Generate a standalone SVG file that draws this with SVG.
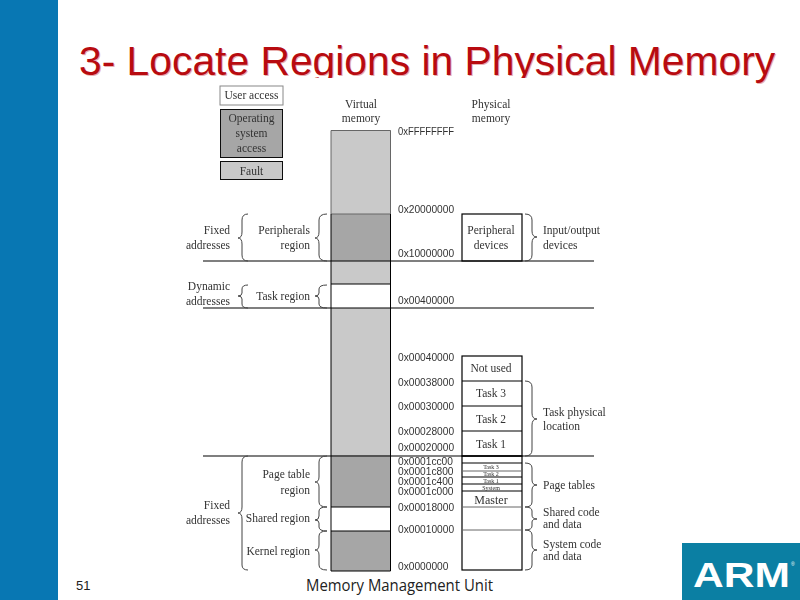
<svg xmlns="http://www.w3.org/2000/svg" width="800" height="600" viewBox="0 0 800 600">
<style>
.s{font-family:"Liberation Serif",serif;font-size:11.5px;fill:#333}
.m{text-anchor:middle}.e{text-anchor:end}
.a{font-family:"Liberation Sans",sans-serif;font-size:10.2px;fill:#333}
.b{fill:none;stroke:#444;stroke-width:1}
.k{fill:none;stroke:#000;stroke-width:1.2}
.l{fill:#c9c9c9}.d{fill:#a6a6a6}.w{fill:#fff}
.t{font-family:"Liberation Sans",sans-serif;font-size:40.800px}
</style>
<defs><filter id="soft" x="-5%" y="-5%" width="110%" height="110%"><feGaussianBlur stdDeviation="0.4"/></filter></defs>
<rect width="800" height="600" fill="#fff"/>
<rect id="sidebar" width="58" height="600" fill="#0877b3"/>
<g id="title">
<text class="t" x="80" y="76" fill="#e8b0b0">3- Locate Regions in Physical Memory</text>
<text class="t" x="79" y="75" fill="#b80b10">3- Locate Regions in Physical Memory</text>
</g>
<rect x="170" y="78" width="440" height="10" fill="#fff"/>
<g filter="url(#soft)">
<g id="legend">
<g id="legend-user"><rect x="220" y="86" width="63" height="19" fill="#fff" stroke="#888"/><text class="s m" x="251.500" y="99">User access</text></g>
<g id="legend-os"><rect class="d" x="220.500" y="109.500" width="62" height="48" stroke="#111"/><text class="s m" x="251.500" y="122">Operating</text><text class="s m" x="251.500" y="137">system</text><text class="s m" x="251.500" y="152">access</text></g>
<g id="legend-fault"><rect class="l" x="220.500" y="161.500" width="62" height="18" stroke="#111"/><text class="s m" x="251.500" y="175">Fault</text></g>
</g>
<g id="virtual-memory">
<text class="s m" x="361" y="108">Virtual</text><text class="s m" x="361" y="122">memory</text>
<rect class="l" x="331" y="130" width="60" height="84"/>
<rect class="d" x="331" y="214" width="60" height="47"/>
<rect class="l" x="331" y="261" width="60" height="23"/>
<rect class="w" x="331" y="284" width="60" height="24"/>
<rect class="l" x="331" y="308" width="60" height="147"/>
<rect class="d" x="331" y="455" width="60" height="52"/>
<rect class="w" x="331" y="507" width="60" height="24"/>
<rect class="d" x="331" y="531" width="60" height="40"/>
<path d="M331 284H391M331 507H391M331 531H391" stroke="#000" fill="none"/>
<path d="M331 214V130.500H390.500V214" stroke="#666" fill="none"/>
<path d="M331 214H391" stroke="#666" fill="none"/>
<path d="M331 214V571H390.500V214" stroke="#000" fill="none"/>
</g>
<g id="connectors">
<path d="M203 261H594M203 308H594M203 456H594" stroke="#000" stroke-width="1.200" fill="none"/>
<path class="b" d="M248 214Q242 214 242 220V232Q242 238 238 238Q242 238 242 244V255Q242 261 248 261"/>
<path class="b" d="M248 285Q242 285 242 289V293Q242 296 238 296Q242 296 242 299V304Q242 308 248 308"/>
<path class="b" d="M248 456Q242 456 242 462V507Q242 513 238 513Q242 513 242 519V565Q242 570 248 570"/>
<path class="b" d="M327 214Q319 214 319 220V232Q319 238 315 238Q319 238 319 244V255Q319 261 327 261"/>
<path class="b" d="M327 285Q319 285 319 289V293Q319 296 315 296Q319 296 319 299V304Q319 308 327 308"/>
<path class="b" d="M327 456Q319 456 319 462V477Q319 482 315 482Q319 482 319 487V502Q319 507 327 507"/>
<path class="b" d="M327 507Q319 507 319 511V516Q319 520 315 520Q319 520 319 523V527Q319 531 327 531"/>
<path class="b" d="M327 531Q319 531 319 536V545Q319 550 315 550Q319 550 319 555V565Q319 570 327 570"/>
<path class="b" d="M525 214Q532 214 532 220V231Q532 237 537 237Q532 237 532 243V255Q532 261 525 261"/>
<path class="b" d="M525 381Q532 381 532 387V413Q532 419 537 419Q532 419 532 425V450Q532 456 525 456"/>
<path class="b" d="M525 463Q532 463 532 468V480Q532 485 537 485Q532 485 532 490V502Q532 507 525 507"/>
<path class="b" d="M525 507Q532 507 532 511V515Q532 519 537 519Q532 519 532 522V526Q532 530 525 530"/>
<path class="b" d="M525 530Q532 530 532 535V545Q532 550 537 550Q532 550 532 555V565Q532 570 525 570"/>
</g>
<g id="left-labels">
<text class="s e" x="230" y="234">Fixed</text><text class="s e" x="230" y="249">addresses</text>
<text class="s e" x="230" y="290">Dynamic</text><text class="s e" x="230" y="305">addresses</text>
<text class="s e" x="230" y="509">Fixed</text><text class="s e" x="230" y="524">addresses</text>
<text class="s e" x="310" y="234">Peripherals</text><text class="s e" x="310" y="249">region</text>
<text class="s e" x="310" y="300">Task region</text>
<text class="s e" x="310" y="478">Page table</text><text class="s e" x="310" y="494">region</text>
<text class="s e" x="310" y="522">Shared region</text>
<text class="s e" x="310" y="555">Kernel region</text>
</g>
<g id="addresses">
<text class="a" x="398" y="135" textLength="56" lengthAdjust="spacingAndGlyphs">0xFFFFFFFF</text>
<text class="a" x="398" y="213">0x20000000</text>
<text class="a" x="398" y="257">0x10000000</text>
<text class="a" x="398" y="304">0x00400000</text>
<text class="a" x="398" y="361">0x00040000</text>
<text class="a" x="398" y="386">0x00038000</text>
<text class="a" x="398" y="410">0x00030000</text>
<text class="a" x="398" y="435">0x00028000</text>
<text class="a" x="398" y="451">0x00020000</text>
<text class="a" x="398" y="464.500">0x0001cc00</text>
<text class="a" x="398" y="474.500">0x0001c800</text>
<text class="a" x="398" y="484.500">0x0001c400</text>
<text class="a" x="398" y="494.500">0x0001c000</text>
<text class="a" x="398" y="511">0x00018000</text>
<text class="a" x="398" y="533">0x00010000</text>
<text class="a" x="398" y="570">0x0000000</text>
</g>
<g id="physical-memory">
<text class="s m" x="491" y="108">Physical</text><text class="s m" x="491" y="122">memory</text>
<g id="peripheral-devices"><rect class="k" x="462" y="214" width="60" height="47"/><text class="s m" x="491" y="234">Peripheral</text><text class="s m" x="491" y="249">devices</text></g>
<g id="ram">
<rect class="k" x="462" y="356" width="60" height="100"/>
<path class="k" d="M462 381H522M462 406H522M462 431H522"/>
<text class="s m" x="491" y="372">Not used</text><text class="s m" x="491" y="397">Task 3</text><text class="s m" x="491" y="423">Task 2</text><text class="s m" x="491" y="448">Task 1</text>
<rect class="k" x="462" y="456" width="60" height="114"/>
<path class="k" d="M462 463H522M462 477H522M462 484H522M462 491H522"/>
<path d="M462 471H522M462 507H522M462 530H522" stroke="#666" fill="none"/>
<text class="s m" x="491" y="469" style="font-size:6px">Task 3</text><text class="s m" x="491" y="476" style="font-size:6px">Task 2</text><text class="s m" x="491" y="483" style="font-size:6px">Task 1</text><text class="s m" x="491" y="490" style="font-size:6px">System</text>
<text class="s m" x="491" y="504" style="font-size:12px">Master</text>
</g>
</g>
<g id="right-labels">
<text class="s" x="543" y="234">Input/output</text><text class="s" x="543" y="249">devices</text>
<text class="s" x="543" y="416">Task physical</text><text class="s" x="543" y="430">location</text>
<text class="s" x="543" y="489">Page tables</text>
<text class="s" x="543" y="516">Shared code</text><text class="s" x="543" y="528">and data</text>
<text class="s" x="543" y="548">System code</text><text class="s" x="543" y="560">and data</text>
</g>
</g>
<g id="footer">
<text x="76" y="590" font-family="Liberation Sans, sans-serif" font-size="13" fill="#222">51</text>
<text x="306" y="591" font-family="Open Sans, sans-serif" font-size="16" fill="#222" textLength="187" lengthAdjust="spacingAndGlyphs">Memory Management Unit</text>
</g>
<g id="arm-logo">
<rect x="682" y="543" width="118" height="57" fill="#0b7fa3"/>
<text x="693" y="587" font-family="Liberation Sans, sans-serif" font-size="35" font-weight="bold" fill="#fff" textLength="97" lengthAdjust="spacingAndGlyphs">ARM</text>
<text x="791" y="566" font-family="Liberation Sans, sans-serif" font-size="5" fill="#fff">®</text>
</g>
</svg>
